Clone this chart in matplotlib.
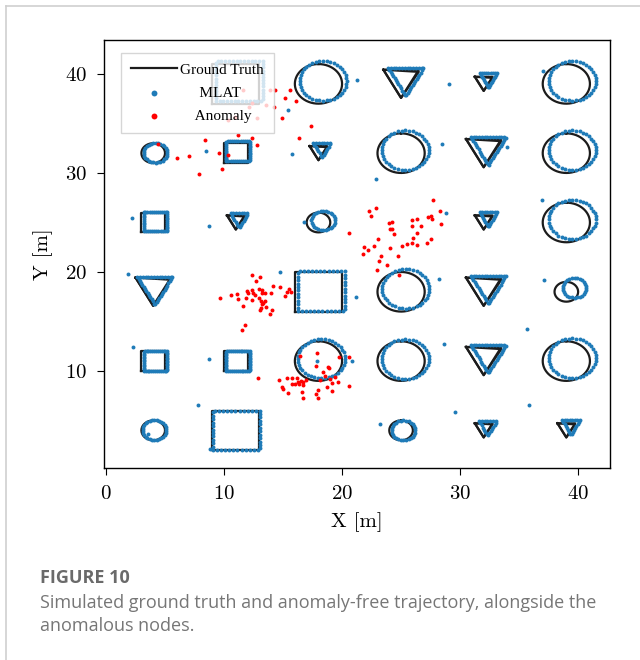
import numpy as np
import matplotlib
matplotlib.use("Agg")
import matplotlib.pyplot as plt
from matplotlib.lines import Line2D

plt.rcParams.update({
    "font.family": "serif",
    "font.serif": ["cmr10"],
    "mathtext.fontset": "cm",
    "axes.unicode_minus": False,
    "axes.formatter.use_mathtext": True,
})

# ---- ground-truth trajectories: centre, shape and half-size ----
shape_x = [11, 18, 25, 32, 39,
           4, 11, 18, 25, 32, 39,
           4, 11, 18, 32, 39,
           4, 18, 25, 32, 39,
           4, 11, 18, 25, 32, 39,
           4, 11, 25, 32, 39]
shape_y = [39, 39, 39, 39, 39,
           32, 32, 32, 32, 32, 32,
           25, 25, 25, 25, 25,
           18, 18, 18, 18, 18,
           11, 11, 11, 11, 11, 11,
           4, 4, 4, 4, 4]
shape_kind = ["square", "circle", "triangle", "triangle", "circle",
              "circle", "square", "triangle", "circle", "triangle", "circle",
              "square", "triangle", "circle", "triangle", "circle",
              "triangle", "square", "circle", "triangle", "circle",
              "square", "square", "circle", "circle", "triangle", "circle",
              "circle", "square", "circle", "triangle", "triangle"]
shape_half = [2, 2, 1.5, 0.75, 2,
              1, 1, 0.75, 2, 1.5, 2,
              1, 0.75, 1, 0.75, 2,
              1.5, 2, 2, 1.5, 1,
              1, 1, 2, 2, 1.5, 2,
              1, 2, 1, 0.75, 0.75]

# ---- MLAT estimates: systematic shift of each track and number of fixes ----
mlat_dx = [0.3, 0.4, 0.4, 0.4, 0.5,
           0.2, 0.2, 0.3, 0.35, 0.4, 0.5,
           0.2, 0.3, 0.4, 0.4, 0.5,
           0.15, 0.25, 0.4, 0.4, 0.7,
           0.2, 0.2, 0.25, 0.35, 0.4, 0.5,
           0.1, 0.05, 0.2, 0.35, 0.4]
mlat_dy = [0.3, 0.3, 0.2, 0.35, 0.3,
           0.05, 0.2, 0.3, 0.3, 0.2, 0.3,
           0.1, 0.2, 0.2, 0.3, 0.3,
           0.1, 0.05, 0.3, 0.2, 0.4,
           0.0, 0.0, 0.25, 0.2, 0.2, 0.3,
           0.05, 0.0, 0.0, 0.2, 0.3]
mlat_n = [50, 40, 40, 25, 40,
          30, 45, 20, 40, 40, 40,
          45, 20, 28, 22, 40,
          40, 46, 40, 40, 28,
          50, 50, 40, 40, 40, 40,
          30, 46, 28, 20, 22]

# isolated MLAT fixes away from the tracks
mlat_extra_x = [21.3, 15.4, 8.5, 15.8, 29.1, 22.9, 28.5, 34.0, 37.0, 2.2,
                8.7, 16.8, 1.85, 14.7, 21.2, 28.8, 36.9, 28.2, 37.1, 35.7,
                2.3, 8.7, 7.8, 20.8, 17.9, 3.6, 8.8, 28.6, 23.2, 29.6, 35.8]
mlat_extra_y = [39.4, 36.4, 32.2, 31.9, 39.0, 29.4, 32.9, 32.6, 40.3, 25.5,
                24.6, 25.0, 19.8, 20.0, 17.5, 26.0, 27.3, 19.3, 19.2, 14.2,
                12.4, 11.2, 6.6, 11.0, 11.0, 3.6, 2.1, 12.7, 4.6, 5.9, 6.6]

# ---- anomalous nodes ----
anom_x = [12.35, 13.05, 12.71, 9.66, 10.59, 11.07, 11.16, 11.92, 12.00, 12.35,
          12.49, 12.63, 12.99, 13.19, 13.19, 13.47, 13.98, 14.18, 14.75, 15.2,
          15.37, 15.54, 15.65, 11.86, 12.4, 12.97, 13.14, 13.28, 13.47, 13.19,
          13.56, 11.58, 13.11, 13.05, 14.1, 13.9, 11.78, 11.5,
          27.74, 28.31, 22.32, 22.85, 22.43, 24.01, 24.21, 28.39, 24.07, 24.27,
          24.41, 25.9, 26.38, 25.9, 26.67, 27.32, 27.52, 27.66, 26.38, 26.05,
          27.54, 23.05, 21.89, 22.23, 22.74, 24.07, 25.06, 25.53, 25.96, 26.38,
          27.23, 21.81, 23.31, 24.72, 23.14, 23.79, 22.94, 24.86, 20.6,
          16.44, 17.91, 17.8, 18.84, 18.93, 18.42, 19.77, 20.56, 14.66, 15.37,
          15.73, 16.16, 16.3, 16.5, 16.72, 16.02, 16.38, 16.95, 18.14, 18.56,
          18.98, 19.41, 19.18, 19.69, 14.94, 14.97, 15.79, 16.66, 15.45, 16.58,
          17.77, 17.94, 18.7, 19.12, 20.62, 16.72, 17.94, 12.9,
          12.35, 12.12, 13.53, 12.77, 10.93, 10.36, 11.64, 13.9, 14.32, 14.24,
          15.59, 15.17, 16.1, 14.89, 17.37, 16.33, 12.35, 12.82, 8.39, 9.6,
          7.06, 6.04, 4.43, 10.36, 9.86, 7.91, 11.21]
anom_y = [19.70, 19.53, 19.12, 17.34, 17.64, 17.74, 17.24, 18.11, 17.91, 18.18,
          17.85, 17.68, 18.28, 18.18, 17.85, 17.85, 17.88, 18.62, 18.45, 17.61,
          17.95, 18.25, 17.95, 17.41, 17.17, 17.34, 17.07, 16.84, 17.07, 16.74,
          16.5, 16.57, 16.33, 16.19, 16.16, 15.72, 14.61, 14.17,
          27.27, 26.16, 26.19, 26.43, 25.69, 24.92, 25.08, 24.85, 24.34, 24.34,
          23.87, 25.28, 25.39, 24.65, 24.65, 25.59, 25.66, 25.32, 23.97, 23.4,
          23.33, 23.33, 22.56, 22.26, 22.63, 22.39, 22.63, 22.83, 22.96, 22.69,
          22.9, 21.79, 21.65, 21.62, 21.11, 20.74, 20.2, 19.67, 23.9,
          11.52, 11.85, 10.51, 10.44, 10.27, 9.93, 11.38, 11.38, 9.09, 9.26,
          9.32, 9.26, 8.92, 9.02, 8.92, 8.69, 8.65, 9.09, 9.09, 9.53,
          9.16, 9.43, 8.75, 8.92, 8.42, 8.15, 8.69, 8.59, 7.75, 7.85,
          7.68, 8.08, 8.42, 7.98, 8.48, 7.3, 7.24, 9.3,
          37.04, 36.7, 36.87, 35.56, 35.69, 35.35, 38.38, 38.38, 38.38, 36.7,
          38.38, 37.54, 37.27, 35.52, 34.75, 33.57, 33.57, 32.83, 33.33, 31.99,
          31.75, 31.48, 32.9, 31.82, 30.37, 29.9, 33.84]

x_ticks = [0, 10, 20, 30, 40]
y_ticks = [10, 20, 30, 40]


def polygon_vertices(kind, cx, cy, h, drop=0.0):
    if kind == "square":
        return [(cx - h, cy - h), (cx + h, cy - h), (cx + h, cy + h), (cx - h, cy + h)]
    k = 0.95 * h
    return [(cx - h, cy + k), (cx + h, cy + k - drop), (cx, cy - k)]


def outline(kind, cx, cy, h, n, drop=0.0):
    """n points spaced evenly along the closed outline of a shape."""
    t = np.arange(n) / n
    if kind == "circle":
        a = 2 * np.pi * t + np.pi / 2
        return cx + h * np.cos(a), cy + h * np.sin(a)
    verts = polygon_vertices(kind, cx, cy, h, drop)
    v = np.array(verts + [verts[0]])
    seg = np.hypot(*np.diff(v, axis=0).T)
    cum = np.concatenate([[0], np.cumsum(seg)])
    s = t * cum[-1]
    return np.interp(s, cum, v[:, 0]), np.interp(s, cum, v[:, 1])


fig = plt.figure(figsize=(6.4, 6.6), dpi=100)
fig.patch.set_facecolor("white")

# page card border
fig.add_artist(Line2D([6 / 640, 6 / 640], [0, 1 - 6 / 660], transform=fig.transFigure,
                      color="#cfcfcf", lw=1.2))
fig.add_artist(Line2D([6 / 640, 1], [1 - 6 / 660, 1 - 6 / 660], transform=fig.transFigure,
                      color="#cfcfcf", lw=1.2))

ax = fig.add_axes([104 / 640, 1 - 468 / 660, (610 - 104) / 640, (468 - 40) / 660])

gt_color = "#1c1c1c"
blue = "#1f7bb8"
for i, kind in enumerate(shape_kind):
    laps = [0.0]
    if kind == "triangle":
        laps = [0.0, 0.14 * shape_half[i]]
    for j, drop in enumerate(laps):
        gx, gy = outline(kind, shape_x[i], shape_y[i], shape_half[i], 400, drop)
        gx = np.append(gx, gx[0])
        gy = np.append(gy, gy[0])
        ax.plot(gx, gy, color=gt_color, lw=1.6, solid_joinstyle="round", zorder=2,
                label="Ground Truth" if (i == 0 and j == 0) else None)

mx, my = [], []
for i, kind in enumerate(shape_kind):
    px, py = outline(kind, shape_x[i] + mlat_dx[i], shape_y[i] + mlat_dy[i],
                     shape_half[i], mlat_n[i])
    mx.extend(px)
    my.extend(py)
mx.extend(mlat_extra_x)
my.extend(mlat_extra_y)
ax.scatter(mx, my, s=8, color=blue, linewidths=0, zorder=3, label="     MLAT")
ax.scatter(anom_x, anom_y, s=8, color="#ff0000", linewidths=0, zorder=4, label="    Anomaly")

ax.set_xlim(-0.17, 42.7)
ax.set_ylim(0.2, 43.43)
ax.set_xticks(x_ticks)
ax.set_yticks(y_ticks)
ax.tick_params(direction="out", length=5, width=0.8, labelsize=15, pad=7)
for sp in ax.spines.values():
    sp.set_linewidth(1.0)
ax.set_xlabel("X [m]", fontsize=15, labelpad=7)
ax.set_ylabel("Y [m]", fontsize=15, labelpad=9)

leg = ax.legend(loc="upper left", bbox_to_anchor=(0.034, 0.970), borderaxespad=0,
                prop={"family": "Liberation Serif", "size": 11},
                handlelength=3.0, handletextpad=0.2, markerscale=1.5,
                labelspacing=0.62, borderpad=0.66, fancybox=False, framealpha=0.8,
                edgecolor="#cccccc")
leg.get_frame().set_linewidth(1.0)

fig.text(40 / 640, 1 - 578 / 660, "FIGURE 10", family="Open Sans", weight="bold",
         fontsize=13, color="#6a6a6a", va="center", ha="left")
fig.text(40 / 640, 1 - 603 / 660,
         "Simulated ground truth and anomaly-free trajectory, alongside the",
         family="Open Sans", fontsize=13.0, color="#767676", va="center", ha="left")
fig.text(40 / 640, 1 - 626 / 660, "anomalous nodes.",
         family="Open Sans", fontsize=13.0, color="#767676", va="center", ha="left")

fig.savefig("out.png", dpi=100)
